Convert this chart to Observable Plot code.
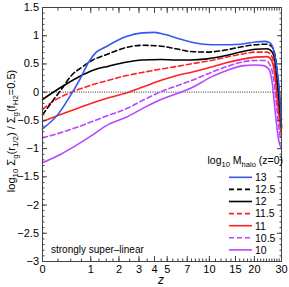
<!DOCTYPE html>
<html><head><meta charset="utf-8">
<script src="https://cdn.jsdelivr.net/npm/d3@7"></script>
<script src="https://cdn.jsdelivr.net/npm/@observablehq/plot@0.6"></script>
<style>body{margin:0;background:#fff} svg{display:block}</style>
</head><body><div id="chart"></div>
<script>
const masses = ["13", "12.5", "12", "11.5", "11", "10.5", "10"];
const colors = ["#3558ee", "#000000", "#000000", "#ff2222", "#ff2222", "#b845ff", "#b845ff"];
const dashed = [false, true, false, true, false, true, false];

const z13 = [0, 0.26, 0.45, 0.72, 0.94, 1.15, 1.47, 2.3, 3.2, 4.0, 4.85, 6.0, 7.4, 9.1, 11.9, 16.2, 20.3, 23.6, 25.4, 26.7, 28.1, 29.5, 30];
const v13 = [-0.65, -0.38, -0.12, 0.24, 0.53, 0.70, 0.80, 0.98, 1.05, 1.06, 1.02, 0.95, 0.89, 0.85, 0.84, 0.85, 0.89, 0.90, 0.87, 0.74, 0.38, -0.21, -0.62];
const z125 = [0, 0.14, 0.32, 0.52, 0.76, 1.03, 1.58, 2.3, 3.19, 4.29, 5.76, 7.4, 9.65, 12.5, 16.2, 20.3, 24.2, 26.1, 27.4, 28.8, 30];
const v125 = [-0.40, -0.18, 0.06, 0.30, 0.44, 0.56, 0.68, 0.79, 0.83, 0.82, 0.77, 0.72, 0.71, 0.74, 0.80, 0.84, 0.85, 0.80, 0.62, 0.09, -0.50];
const z12 = [0, 0.26, 0.68, 1.13, 1.58, 2.3, 3.19, 4.5, 5.76, 7.4, 9.65, 12.5, 16.2, 20.3, 24.2, 26.1, 27.4, 28.8, 30];
const v12 = [-0.13, 0.06, 0.27, 0.40, 0.46, 0.53, 0.57, 0.58, 0.57, 0.57, 0.59, 0.64, 0.71, 0.76, 0.77, 0.71, 0.50, -0.09, -0.62];
const z115 = [0, 0.2, 0.52, 0.94, 1.58, 2.3, 3.4, 4.5, 6.0, 7.4, 10.2, 13, 17, 20.3, 24.2, 25.8, 27.1, 28.5, 30];
const v115 = [-0.30, -0.14, 0.0, 0.11, 0.21, 0.29, 0.36, 0.41, 0.46, 0.50, 0.56, 0.62, 0.68, 0.71, 0.71, 0.65, 0.44, -0.15, -0.65];
const z11 = [0, 0.26, 0.68, 1.58, 2.3, 3.4, 4.5, 6.0, 7.4, 10.5, 13, 17, 20.3, 24.2, 25.8, 27.1, 28.5, 30];
const v11 = [-0.52, -0.41, -0.28, -0.10, -0.02, 0.11, 0.21, 0.30, 0.35, 0.45, 0.52, 0.59, 0.62, 0.63, 0.57, 0.33, -0.27, -0.75];
const z105 = [0, 0.26, 0.68, 1.58, 2.3, 3.4, 4.5, 6.0, 7.4, 10.5, 13, 17, 20.3, 23.6, 25.4, 26.7, 28.1, 29.5, 30];
const v105 = [-0.81, -0.73, -0.61, -0.41, -0.30, -0.12, 0.01, 0.12, 0.20, 0.36, 0.45, 0.54, 0.56, 0.56, 0.47, 0.24, -0.33, -0.80, -0.85];
const z10 = [0, 0.3, 0.65, 1.0, 1.58, 2.3, 3.4, 4.5, 6.0, 7.4, 10.5, 13, 17, 20.3, 23.0, 24.8, 26.1, 27.4, 28.8, 30];
const v10 = [-1.25, -1.10, -0.93, -0.78, -0.57, -0.45, -0.26, -0.13, -0.02, 0.07, 0.28, 0.38, 0.47, 0.48, 0.47, 0.41, 0.18, -0.38, -0.86, -1.0];

const xTicks = [0, 1, 2, 3, 4, 5, 7, 10, 15, 20, 30];
const yTicks = [-3, -2.5, -2, -1.5, -1, -0.5, 0, 0.5, 1, 1.5];

const zs = [z13, z125, z12, z115, z11, z105, z10];
const vs = [v13, v125, v12, v115, v11, v105, v10];

const xMinor = [];
for (let t = 0; t < 2; t += 0.25) xMinor.push(+t.toFixed(2));
for (let t = 2; t < 10; t += 0.5) xMinor.push(+t.toFixed(2));
for (let t = 10; t <= 30; t += 1) xMinor.push(t);
const yMinor = d3.range(-30, 16).map(d => d / 10);

const fmt = d => d < 0 ? "\u2212" + Math.abs(d) : String(d);

const lineMarks = zs.map((zz, i) => Plot.line(zz.map((z, j) => ({z, v: vs[i][j]})), {
  x: "z", y: "v", stroke: colors[i], strokeWidth: 1.6,
  strokeDasharray: dashed[i] ? "5,3" : null, curve: "monotone-x"
})).reverse();

const ax = "#444";
const svg = Plot.plot({
  width: 289, height: 287,
  marginLeft: 42, marginRight: 8, marginTop: 7, marginBottom: 26,
  style: {fontFamily: "'Liberation Sans', Arial, sans-serif", fontSize: "11px", background: "#fff", color: "#000"},
  x: {type: "symlog", constant: 1, domain: [0, 30], label: null},
  y: {domain: [-3, 1.5], label: null},
  marks: [
    Plot.ruleY([0], {stroke: "#555", strokeDasharray: "1,1.3", strokeWidth: 1.2}),
    ...lineMarks,
    Plot.frame({stroke: ax}),
    Plot.axisX(xTicks, {anchor: "bottom", tickSize: 0, tickPadding: 4, tickFormat: d => String(d), label: null, fontSize: 11}),
    Plot.axisX(xTicks, {anchor: "bottom", tickSize: -5, tickFormat: () => "", label: null, stroke: ax}),
    Plot.axisX(xTicks, {anchor: "top", tickSize: -5, tickFormat: () => "", label: null, stroke: ax}),
    Plot.axisX(xMinor, {anchor: "bottom", tickSize: -2.5, tickFormat: () => "", label: null, stroke: ax}),
    Plot.axisX(xMinor, {anchor: "top", tickSize: -2.5, tickFormat: () => "", label: null, stroke: ax}),
    Plot.axisY(yTicks, {anchor: "left", tickSize: 0, tickPadding: 3.5, tickFormat: fmt, label: null, fontSize: 11}),
    Plot.axisY(yTicks, {anchor: "left", tickSize: -5, tickFormat: () => "", label: null, stroke: ax}),
    Plot.axisY(yTicks, {anchor: "right", tickSize: -5, tickFormat: () => "", label: null, stroke: ax}),
    Plot.axisY(yMinor, {anchor: "left", tickSize: -2.5, tickFormat: () => "", label: null, stroke: ax}),
    Plot.axisY(yMinor, {anchor: "right", tickSize: -2.5, tickFormat: () => "", label: null, stroke: ax})
  ]
});
document.getElementById("chart").appendChild(svg);

const root = d3.select(svg);
function richText(g, parts, size) {
  const t = g.append("text").attr("font-size", size);
  let shift = 0;
  for (const [s, sub] of parts) {
    const want = sub ? 3 : 0;
    t.append("tspan").attr("dy", want - shift).attr("font-size", sub ? size * 0.72 : size).text(s);
    shift = want;
  }
  return t;
}
// y label
const gy = root.append("g").attr("transform", "translate(15,131) rotate(-90)");
richText(gy, [["log", 0], ["10", 1], [" \u03A3", 0], ["g", 1], ["(r", 0], ["1/2", 1], [") / \u03A3", 0], ["g", 1], ["(f", 0], ["H2", 1], ["=0.5)", 0]], 11).attr("text-anchor", "middle");
// x label
root.append("text").attr("x", 161).attr("y", 284).attr("font-size", 12).attr("font-style", "italic").attr("text-anchor", "middle").text("z");
// note
root.append("text").attr("x", 51).attr("y", 253).attr("font-size", 10).attr("text-anchor", "start").text("strongly super\u2013linear");
// legend
const gl = root.append("g").attr("transform", "translate(283,164)");
richText(gl, [["log", 0], ["10", 1], [" M", 0], ["halo", 1], [" (z=0)", 0]], 10.5).attr("text-anchor", "end");
masses.forEach((m, i) => {
  const y = 177.3 + i * 12.1;
  root.append("line").attr("x1", 229).attr("x2", 252).attr("y1", y).attr("y2", y)
    .attr("stroke", colors[i]).attr("stroke-width", 1.6).attr("stroke-dasharray", dashed[i] ? "5,3" : null);
  root.append("text").attr("x", 255).attr("y", y + 3.8).attr("font-size", 10.5).attr("text-anchor", "start").text(m);
});
</script>
</body></html>
